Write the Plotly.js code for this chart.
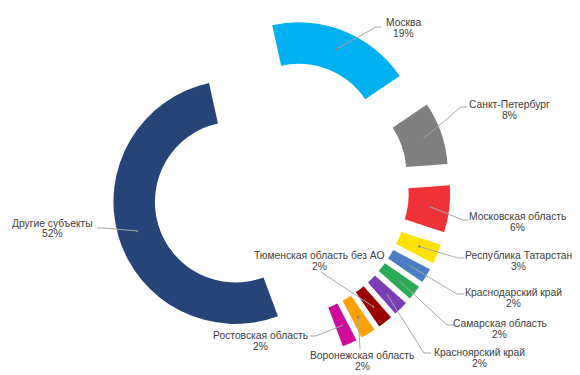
<!DOCTYPE html>
<html>
<head>
<meta charset="utf-8">
<script src="https://cdn.plot.ly/plotly-3.0.1.min.js"></script>
<style>html,body{margin:0;padding:0;background:#fff;}#chart{width:580px;height:375px;}</style>
</head>
<body>
<div id="chart"></div>
<script>
// ---- data ----
const regions = ['Москва', 'Санкт-Петербург', 'Московская область', 'Республика Татарстан',
  'Краснодарский край', 'Самарская область', 'Красноярский край', 'Тюменская область без АО',
  'Воронежская область', 'Ростовская область', 'Другие субъекты'];
const shares = [19.0, 8.3, 6.2, 2.6, 1.95, 1.95, 1.95, 1.95, 1.95, 1.95, 52.2];
const sliceColors = ['#00B0F0', '#7F7F7F', '#EE3236', '#FFE200', '#4A7DC4', '#2AAA55',
  '#7B3DB5', '#9A0000', '#FFA200', '#CF0A9B', '#264478'];

// ---- layout config ----
const W = 580, H = 375, MT = 19, MB = 17;
const PH = H - MT - MB;
const PULL = 0.39, HOLE = 0.66, ROT = -12.5;
const DOMX = [0, 0.969];
// label text centres and leader anchors (pixels)
const labelPos = [
  {x: 404, y: 28.5, ax: 381, ay: 27, ex: 376},
  {x: 509, y: 109.5, ax: 467, ay: 107, ex: 461},
  {x: 517, y: 221.5, ax: 468, ay: 220, ex: 463},
  {x: 518, y: 260.5, ax: 464, ay: 258, ex: 458},
  {x: 513, y: 297.5, ax: 464, ay: 294, ex: 457},
  {x: 500, y: 328.5, ax: 454, ay: 325, ex: 447},
  {x: 479, y: 357.5, ax: 431, ay: 353, ex: 424},
  {x: 319, y: 261, ax: 321, ay: 272, ex: 321},
  {x: 362, y: 360.5, ax: 360, ay: 349, ex: 360},
  {x: 260, y: 340.5, ax: 310, ay: 336, ex: 316},
  {x: 52, y: 228.5, ax: 97, ay: 228, ex: 103}
];
const LINE_GAP = 11;

const total = shares.reduce((a, b) => a + b, 0);
const R = Math.min(W * (DOMX[1] - DOMX[0]), PH) / (2 + 2 * PULL);
const CX = W * (DOMX[0] + DOMX[1]) / 2;
const CY = MT + PH / 2;
const toX = px => px / W;
const toY = py => 1 - (py - MT) / PH;
const font = {family: 'Liberation Sans, Arial, sans-serif', size: 10.3, color: '#404040'};

const annotations = [];
const shapes = [];
let acc = 0;
shares.forEach((v, i) => {
  const mid = (ROT + (acc + v / 2) / total * 360) * Math.PI / 180;
  acc += v;
  const dist = PULL * R + 0.84 * R;
  const px = CX + dist * Math.sin(mid);
  const py = CY - dist * Math.cos(mid);
  const lp = labelPos[i];
  const pct = Math.round(v / total * 100) + '%';
  [regions[i], pct].forEach((t, k) => {
    annotations.push({
      xref: 'paper', yref: 'paper', x: toX(lp.x), y: toY(lp.y + (k - 0.5) * LINE_GAP),
      xanchor: 'center', yanchor: 'middle', showarrow: false,
      text: t, font: font
    });
  });
  shapes.push({
    type: 'path', xref: 'paper', yref: 'paper',
    path: 'M' + toX(px) + ',' + toY(py) + ' L' + toX(lp.ex) + ',' + toY(lp.ay) + ' L' + toX(lp.ax) + ',' + toY(lp.ay),
    line: {color: '#A6A6A6', width: 1}
  });
  shapes.push({
    type: 'circle', xref: 'paper', yref: 'paper',
    x0: toX(px - 1.2), x1: toX(px + 1.2), y0: toY(py + 1.2), y1: toY(py - 1.2),
    fillcolor: '#808080', line: {width: 0}
  });
});

const trace = {
  type: 'pie', labels: regions, values: shares, sort: false,
  direction: 'clockwise', rotation: ROT, hole: HOLE,
  pull: shares.map(() => PULL),
  marker: {colors: sliceColors, line: {width: 0}},
  textinfo: 'none', hoverinfo: 'label+percent',
  domain: {x: DOMX, y: [0, 1]}
};

Plotly.newPlot('chart', [trace], {
  width: W, height: H, showlegend: false,
  margin: {l: 0, r: 0, t: MT, b: MB},
  paper_bgcolor: '#fff',
  annotations: annotations, shapes: shapes
}, {displayModeBar: false, staticPlot: true});
</script>
</body>
</html>
